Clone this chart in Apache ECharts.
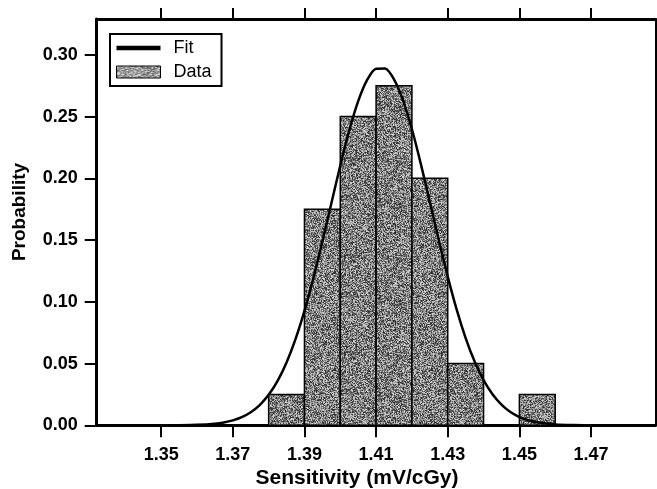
<!DOCTYPE html>
<html>
<head>
<meta charset="utf-8">
<script src="https://cdn.jsdelivr.net/npm/echarts@6/dist/echarts.min.js"></script>
<style>html,body{margin:0;padding:0;background:#fff;}#chart{width:657px;height:489px;}</style>
</head>
<body>
<div id="chart"></div>
<script>
// ---- data ----
const binLo = [1.38, 1.39, 1.40, 1.41, 1.42, 1.43, 1.45];
const binHi = [1.39, 1.40, 1.41, 1.42, 1.43, 1.44, 1.46];
const probability = [0.025, 0.175, 0.25, 0.275, 0.20, 0.05, 0.025];
const fitX = [1.332, 1.34, 1.345, 1.35, 1.355, 1.36, 1.365, 1.3675, 1.37, 1.3725, 1.375, 1.3775, 1.38, 1.3825, 1.385, 1.3875, 1.39, 1.3925, 1.395, 1.3975, 1.40, 1.4025, 1.405, 1.4075, 1.41, 1.4125, 1.415, 1.4175, 1.42, 1.4225, 1.425, 1.4275, 1.43, 1.4325, 1.435, 1.4375, 1.44, 1.4425, 1.445, 1.4475, 1.45, 1.4525, 1.455, 1.4575, 1.46, 1.465, 1.47, 1.475, 1.48, 1.488];
const fitY = [0, 0, 0, 0, 0.0001, 0.0004, 0.0013, 0.0023, 0.0040, 0.0066, 0.0106, 0.0164, 0.0247, 0.0360, 0.0509, 0.0698, 0.0927, 0.1192, 0.1487, 0.1796, 0.2104, 0.2387, 0.2625, 0.2797, 0.2888, 0.2890, 0.2802, 0.2633, 0.2397, 0.2115, 0.1809, 0.1499, 0.1204, 0.0936, 0.0706, 0.0516, 0.0365, 0.0251, 0.0167, 0.0107, 0.0067, 0.0041, 0.0024, 0.0014, 0.0007, 0.0002, 0, 0, 0, 0];
const xTicks = [1.35, 1.37, 1.39, 1.41, 1.43, 1.45, 1.47];
const yTicks = [0, 0.05, 0.10, 0.15, 0.20, 0.25, 0.30];

// ---- grey speckle texture (style only, deterministic) ----
function speckle(size, base, spread) {
  const c = document.createElement('canvas');
  c.width = c.height = size;
  const ctx = c.getContext('2d');
  const img = ctx.createImageData(size, size);
  let s = 987654321;
  for (let i = 0; i < size * size; i++) {
    s = (s * 1103515245 + 12345) & 0x7fffffff;
    const r = s / 0x7fffffff;
    let g = Math.round(base + (r - 0.5) * spread);
    g = Math.max(0, Math.min(255, g));
    img.data[i * 4] = g; img.data[i * 4 + 1] = g; img.data[i * 4 + 2] = g; img.data[i * 4 + 3] = 255;
  }
  ctx.putImageData(img, 0, 0);
  return c;
}
const barPattern = { image: speckle(97, 128, 180), repeat: 'repeat' };
const legendPattern = { image: speckle(61, 160, 150), repeat: 'repeat' };

const FONT = 'Liberation Sans, Arial, sans-serif';
const chart = echarts.init(document.getElementById('chart'), null, { renderer: 'canvas' });

const barData = binLo.map((lo, i) => [lo, binHi[i], probability[i]]);
const fitData = fitX.map((x, i) => [x, fitY[i]]);

chart.setOption({
  animation: false,
  backgroundColor: '#fff',
  grid: { left: 96.7, right: 1.5, top: 19, bottom: 63.7, containLabel: false },
  legend: {
    orient: 'vertical', left: 110, top: 34,
    borderColor: '#000', borderWidth: 2, borderRadius: 0,
    padding: [5, 10, 5, 6], itemGap: 6, itemWidth: 44, itemHeight: 12,
    symbolKeepAspect: true,
    textStyle: { fontFamily: FONT, fontSize: 18, color: '#000', padding: [0, 0, 0, 8] },
    data: [
      { name: 'Fit', icon: 'path://M0,0 L44,0 L44,4.5 L0,4.5 Z', itemStyle: { color: '#000', borderWidth: 0 } },
      { name: 'Data', icon: 'rect', itemStyle: { color: legendPattern, borderColor: '#000', borderWidth: 1 } }
    ]
  },
  xAxis: [{
    type: 'value', min: 1.332, max: 1.488, position: 'bottom',
    axisLine: { show: true, onZero: false, lineStyle: { color: '#000', width: 3 } },
    axisTick: { show: true, inside: false, length: 12, lineStyle: { color: '#000', width: 2 }, customValues: xTicks },
    axisLabel: { show: true, margin: 21, customValues: xTicks, color: '#000', fontFamily: FONT, fontSize: 18, fontWeight: 'bold', formatter: v => v.toFixed(2) },
    splitLine: { show: false }
  }, {
    type: 'value', min: 1.332, max: 1.488, position: 'top',
    axisLine: { show: true, onZero: false, lineStyle: { color: '#000', width: 3 } },
    axisTick: { show: true, inside: false, length: 11, lineStyle: { color: '#000', width: 2 }, customValues: xTicks },
    axisLabel: { show: false },
    splitLine: { show: false }
  }],
  yAxis: [{
    type: 'value', min: 0, max: 0.329, position: 'left',
    axisLine: { show: true, onZero: false, lineStyle: { color: '#000', width: 3 } },
    axisTick: { show: true, inside: false, length: 12, lineStyle: { color: '#000', width: 2 }, customValues: yTicks },
    axisLabel: { show: true, margin: 19, customValues: yTicks, color: '#000', fontFamily: FONT, fontSize: 18, fontWeight: 'bold', formatter: v => v.toFixed(2) },
    splitLine: { show: false }
  }, {
    type: 'value', min: 0, max: 0.329, position: 'right',
    axisLine: { show: true, onZero: false, lineStyle: { color: '#000', width: 2 } },
    axisTick: { show: false }, axisLabel: { show: false }, splitLine: { show: false }
  }],
  graphic: [
    { type: 'text', x: 357, y: 478, z: 10, style: { text: 'Sensitivity (mV/cGy)', fontFamily: FONT, fontSize: 21, fontWeight: 'bold', fill: '#000', textAlign: 'center', textVerticalAlign: 'middle' } },
    { type: 'text', x: 20, y: 212, rotation: Math.PI / 2, z: 10, style: { text: 'Probability', fontFamily: FONT, fontSize: 19, fontWeight: 'bold', fill: '#000', textAlign: 'center', textVerticalAlign: 'middle' } }
  ],
  series: [{
    name: 'Data', type: 'custom', xAxisIndex: 0, yAxisIndex: 0, z: 2,
    itemStyle: { color: legendPattern },
    encode: { x: [0, 1], y: 2 },
    data: barData,
    renderItem: function (params, api) {
      const p0 = api.coord([api.value(0), api.value(2)]);
      const p1 = api.coord([api.value(1), 0]);
      return {
        type: 'rect',
        shape: { x: p0[0], y: p0[1], width: p1[0] - p0[0], height: p1[1] - p0[1] },
        style: { fill: barPattern, stroke: '#000', lineWidth: 1.5 }
      };
    }
  }, {
    name: 'Fit', type: 'line', xAxisIndex: 0, yAxisIndex: 0, z: 3,
    data: fitData, smooth: 0.25, symbol: 'none', showSymbol: false,
    lineStyle: { color: '#000', width: 2.5 }, itemStyle: { color: '#000' }
  }]
});
</script>
</body>
</html>
